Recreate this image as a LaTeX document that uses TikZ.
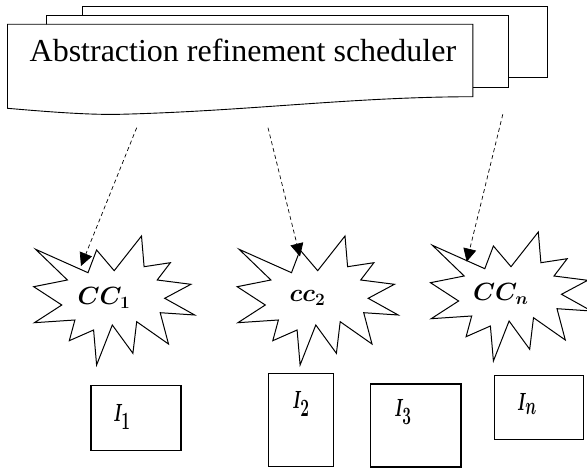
\documentclass[tikz,border=0pt]{standalone}
\usepackage{amsmath}
\usepackage{graphicx}
\usepackage{fontspec}
\setmainfont{Liberation Serif}
\usepackage{tikz}
\usetikzlibrary{arrows.meta}
\usetikzlibrary{calc}
\usetikzlibrary{positioning}

\newcommand{\slim}[1]{\scalebox{0.62}[1]{#1}}

\begin{document}
\begin{tikzpicture}[x=1pt, y=-1pt,
    page/.style={draw, line width=0.9pt, fill=white},
    burst/.style={draw, line width=1pt, fill=white},
    flow/.style={dashed, dash pattern=on 4pt off 3pt, line width=0.7pt,
                 -{Triangle[length=13pt, width=13pt]}},
    tank/.style={draw, line width=1.1pt, inner sep=0pt},
    cclabel/.style={font=\fontsize{27}{30}\selectfont\boldmath},
    ilabel/.style={font=\fontsize{38}{40}\selectfont\boldmath, inner sep=0pt}]
            \useasboundingbox (0, 0) rectangle (587, 468);
            \clip (0, 0) rectangle (587, 468);

            % Scheduler (three stacked pages)
            \draw[page] (82.4, 6) rectangle (547.7, 77.7);
            \draw[page] (46.4, 15) rectangle (508, 87.3);
            \draw[page] (7.5, 24.3) -- (472.9, 24.3) -- (472.9, 96.7)
                .. controls (350, 97) and (250, 111) .. (120, 114.3)
                .. controls (90, 115) and (50, 112) .. (7.5, 108.3) -- cycle;
            \node[anchor=base, font=\fontsize{32}{36}\selectfont, inner sep=0pt]
                (sched) at (242.9, 61.7) {Abstraction refinement scheduler};

            % Stars
            \foreach \i/\dx/\dy/\txt in {1/0/0/{CC_1}, 2/203.5/0/{cc_2}, 3/396.8/-4/{CC_n}} {
              \begin{scope}[shift={(\dx, \dy)}]
                \draw[burst] (35.6, 249.3) -- (88, 272.7) -- (96.6, 250) -- (114.2, 270.7)
                  -- (141.5, 236) -- (144.1, 266.7) -- (170.4, 262.7) -- (157.2, 280)
                  -- (190.9, 284.3) -- (164.7, 298.3) -- (194.7, 315) -- (160.2, 312.7)
                  -- (168.5, 344) -- (136.7, 321.7) -- (132.9, 353.3) -- (112.3, 325)
                  -- (96.6, 365) -- (93.6, 330) -- (69.3, 340.7) -- (74.9, 320)
                  -- (34.4, 322.7) -- (61.8, 305) -- (33.7, 286.7) -- (67.4, 280) -- cycle;
                \node[cclabel] (cc\i) at (104, 298) {$\txt$};
              \end{scope}
            }

            % Arrows from the scheduler to the stars
            \coordinate (src1) at (136.7, 127.7);
            \coordinate (src2) at (268, 127.7);
            \coordinate (src3) at (502.8, 114.3);
            \coordinate (hit1) at (81, 266);
            \coordinate (hit2) at (300, 256.5);
            \coordinate (hit3) at (466.7, 261.7);
            \draw[flow] (src1) -- (hit1);
            \draw[flow] (src2) -- (hit2);
            \draw[flow] (src3) -- (hit3);

            % Boxes
            \node[tank, minimum width=90pt, minimum height=65pt] (box1) at (136, 418.2) {};
            \node[tank, minimum width=65pt, minimum height=93.4pt] (box2) at (300.8, 420) {};
            \node[tank, minimum width=90.3pt, minimum height=83pt] (box3) at (415.8, 425.5) {};
            \node[tank, minimum width=89.7pt, minimum height=64.3pt] (box4) at (538.9, 407.2) {};
            \node[ilabel] (lab1) at (122, 417) {\slim{$I_1$}};
            \node[ilabel] (lab2) at (301, 404) {\slim{$I_2$}};
            \node[ilabel] (lab3) at (403, 412) {\slim{$I_3$}};
            \node[ilabel] (lab4) at (527, 404) {\slim{$I_n$}};
        \end{tikzpicture}
\end{document}
